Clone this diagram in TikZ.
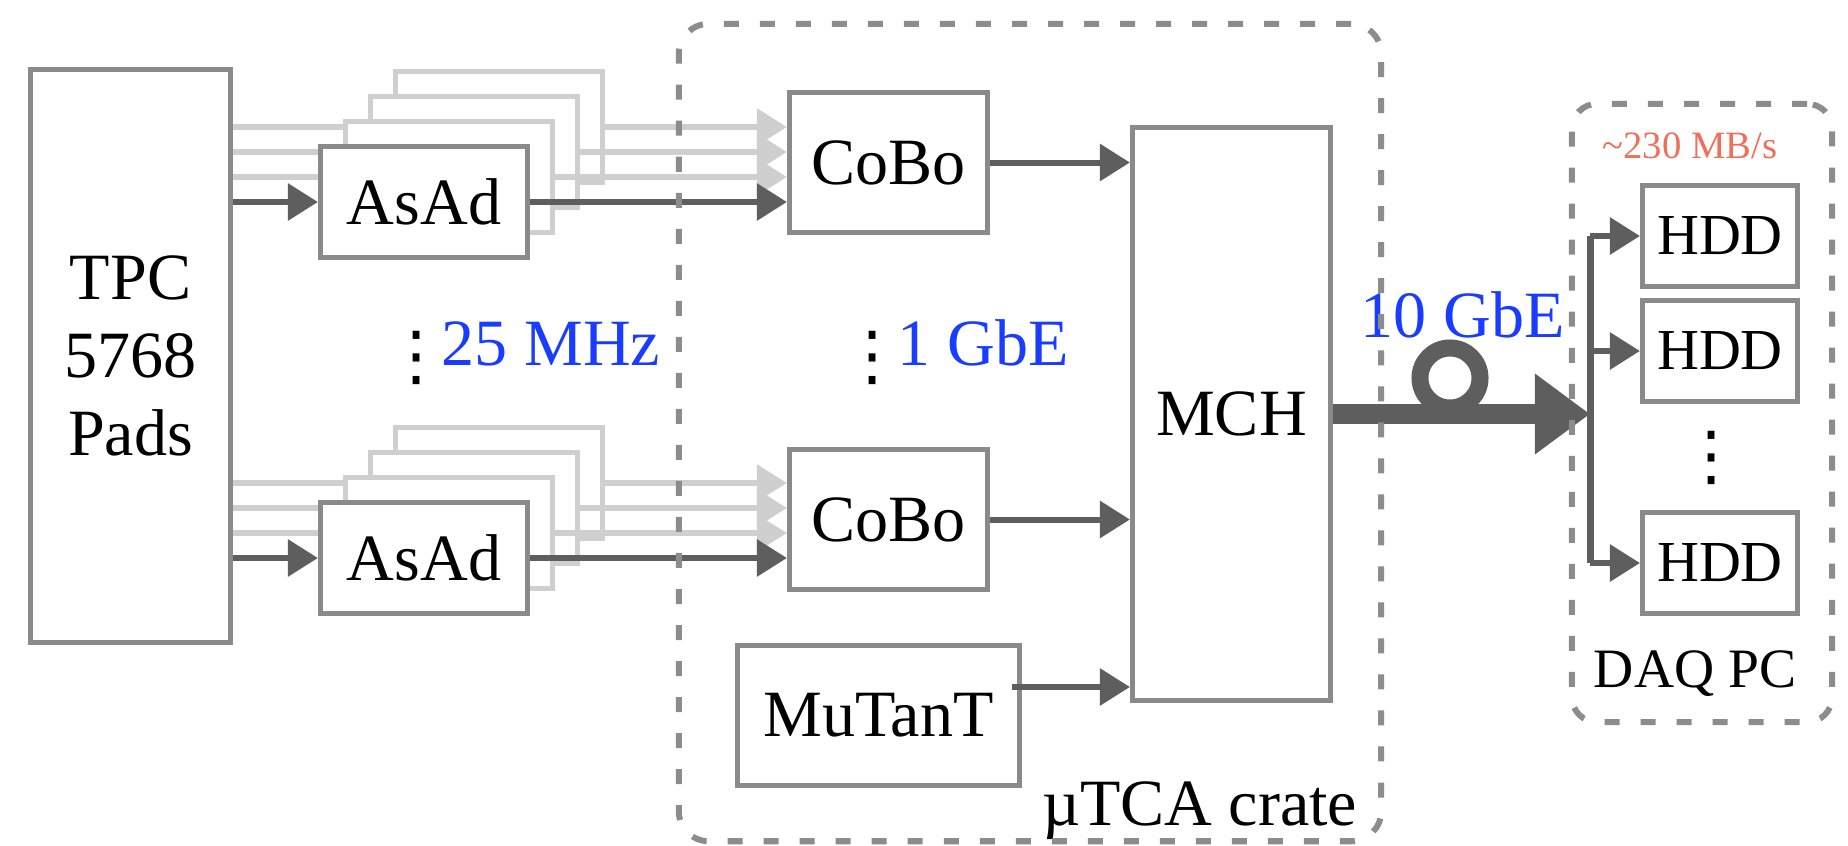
\documentclass[tikz,border=0pt]{standalone}
\usepackage{fontspec}
\setmainfont{Liberation Serif}
\newfontfamily\symfont{DejaVu Sans}
\usetikzlibrary{arrows.meta}

\definecolor{boxgray}{RGB}{138,138,138}
\definecolor{darkline}{RGB}{94,94,94}
\definecolor{lightline}{RGB}{207,207,207}
\definecolor{dashgray}{RGB}{140,140,140}
\definecolor{textblue}{RGB}{25,60,255}
\definecolor{salmon}{RGB}{240,110,90}

\newcommand{\mainsz}{\fontsize{18.8pt}{22.2pt}\selectfont}
\newcommand{\hddsz}{\fontsize{16.5pt}{20pt}\selectfont}
\newcommand{\daqsz}{\fontsize{15.8pt}{19pt}\selectfont}
\newcommand{\ratesz}{\fontsize{11pt}{13pt}\selectfont}
\newcommand{\tridots}{\makebox[0.25em][c]{\raisebox{-0.2em}{\symfont ⋮}}}

\tikzset{
  blk/.style={draw=boxgray, line width=0.05cm, fill=white, inner sep=0pt, font=\mainsz},
  asadbox/.style={minimum width=2.07cm, minimum height=1.11cm},
  boardbox/.style={minimum width=1.98cm, minimum height=1.4cm},
  hddbox/.style={blk, font=\hddsz, minimum width=1.55cm, minimum height=1.0cm},
  ghost/.style={draw=lightline, line width=0.045cm, fill=white, asadbox},
  lline/.style={draw=lightline, line width=0.06cm},
  larr/.style={lline, -{Triangle[length=0.3cm,width=0.36cm]}},
  darr/.style={draw=darkline, line width=0.06cm, -{Triangle[length=0.3cm,width=0.36cm]}},
  fatarr/.style={draw=darkline, line width=0.2cm, -{Triangle[length=0.55cm,width=0.77cm]}},
  group/.style={draw=dashgray, line width=0.06cm, dash pattern=on 0.15cm off 0.21cm, rounded corners=0.3cm},
  lbl/.style={inner sep=0pt, font=\mainsz},
}

\begin{document}
\begin{tikzpicture}[x=0.01cm, y=-0.01cm]
\useasboundingbox (0,0) rectangle (1848,845);

% detector
\node[blk, minimum width=2cm, minimum height=5.73cm, align=center] (tpc) at (130.5,356) {TPC\\5768\\Pads};

% boards in the crate
\node[blk, boardbox] (cobo1) at (888.5,162.5) {CoBo};
\node[blk, boardbox] (cobo2) at (888.5,519.5) {CoBo};
\node[blk, minimum width=2.82cm, minimum height=1.4cm] (mutant) at (878.5,715.5) {MuTanT};
\node[blk, minimum width=1.98cm, minimum height=5.73cm] (mch) at (1231.5,414) {MCH};

% AsAd stacks, back to front
\foreach \sy/\cb [count=\i] in {202/cobo1, 558/cobo2} {
  \foreach \k in {3,2,1} {
    \node[ghost] (g\i\k) at ({424+25*\k},{\sy-25*\k}) {};
    \draw[lline] (g\i\k.west -| tpc.east) -- (g\i\k.west);
    \draw[larr] (g\i\k.east) -- (g\i\k.east -| \cb.west);
  }
  \node[blk, asadbox] (asad\i) at (424,\sy) {AsAd};
  \draw[darr] (asad\i.west -| tpc.east) -- (asad\i.west);
  \draw[darr] (asad\i.east) -- (asad\i.east -| \cb.west);
}

% into the MCH
\draw[darr] (cobo1.east) -- (cobo1.east -| mch.west);
\draw[darr] (cobo2.east) -- (cobo2.east -| mch.west);
\coordinate (mtout) at ([xshift=-0.1cm, yshift=0.285cm]mutant.east);
\draw[darr] (mtout) -- (mtout -| mch.west);

% DAQ PC disks
\node[hddbox] (hdd1) at (1720,236) {HDD};
\node[hddbox] (hdd2) at (1720,351) {HDD};
\node[hddbox] (hdd3) at (1720,563) {HDD};
\node[lbl] (hdddots) at (1712,458) {\tridots};

% 10 GbE link
\coordinate (bus) at (1590,414);
\draw[fatarr] (mch.east) -- (bus);
\draw[darkline, line width=0.17cm] (1450,378) circle [radius=0.3cm];
\draw[darkline, line width=0.07cm] (bus |- hdd1.west) -- (bus |- hdd3.west);
\foreach \h in {hdd1,hdd2,hdd3}
  \draw[darr] (bus |- \h.west) -- (\h.west);

% labels
\node[lbl, anchor=base west, text=textblue] (rate25) at (408,365) {{\color{black}\tridots}\hspace{0.25em}25 MHz};
\node[lbl, anchor=base west, text=textblue] (rate1g) at (864,365) {{\color{black}\tridots}\hspace{0.25em}1 GbE};
\node[lbl, anchor=base west, text=textblue] (rate10g) at (1360,337) {10 GbE};
\node[lbl, anchor=base east] (cratelbl) at (1358,825) {µTCA crate};
\node[lbl, font=\ratesz, text=salmon, anchor=base] (mbps) at (1690,158) {\textasciitilde230 MB/s};
\node[lbl, font=\daqsz, anchor=base] (daqlbl) at (1695,687) {DAQ PC};

% groups
\node[group, minimum width=7.02cm, minimum height=8.17cm] (crate) at (1030,432.5) {};
\node[group, rounded corners=0.25cm, minimum width=2.6cm, minimum height=6.18cm] (daq) at (1702,413) {};
\end{tikzpicture}
\end{document}
